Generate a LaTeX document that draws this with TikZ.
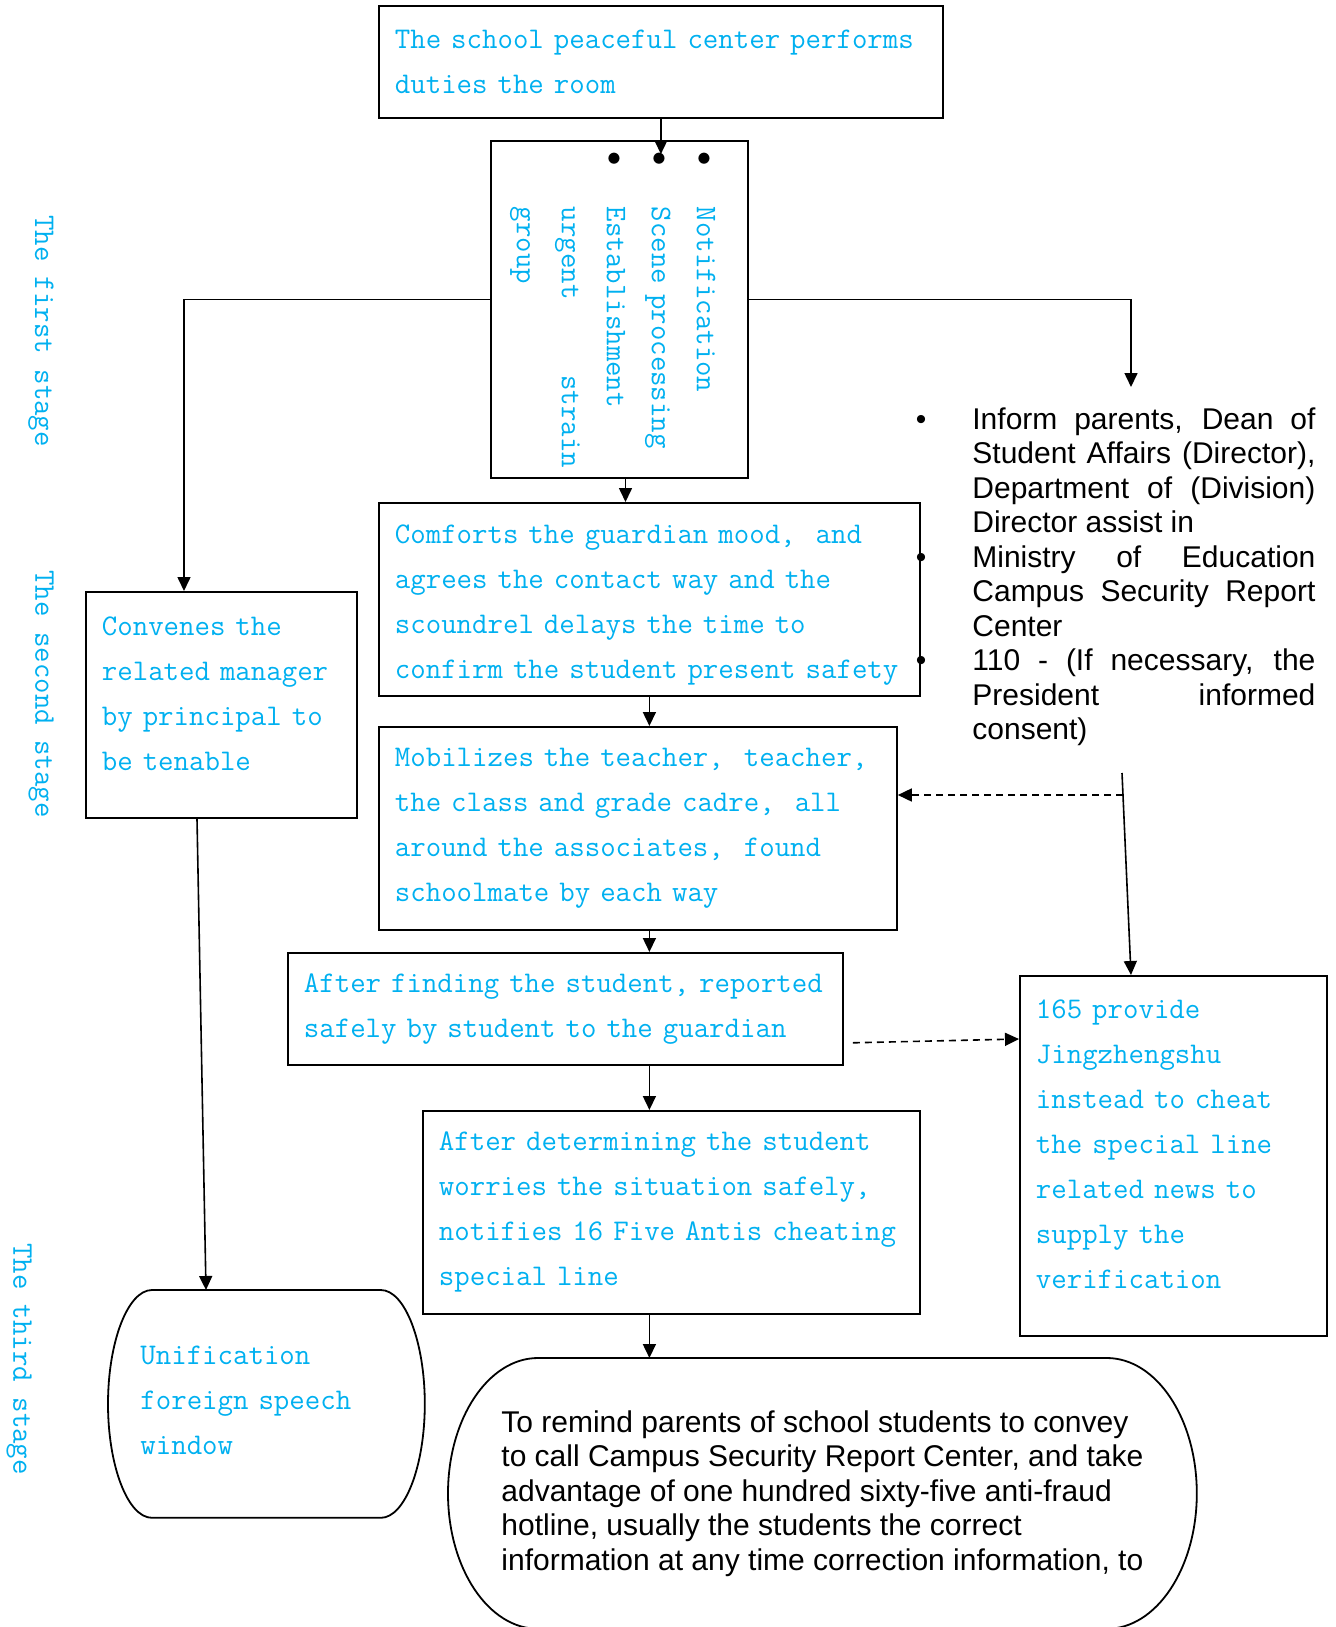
\documentclass[tikz,border=0pt]{standalone}
\usepackage{fontspec}
\newfontfamily\arialfont{Liberation Sans}
\usetikzlibrary{arrows.meta, calc}
\definecolor{skycyan}{RGB}{0,176,240}
\newcommand{\cyantext}{\ttfamily\fontsize{15}{22.5}\selectfont}
\newcommand{\blacktext}{\arialfont\fontsize{15}{17.25}\selectfont}
\newcommand{\dotmark}{\makebox[28pt][l]{\textcolor{black}{$\bullet$}}}
% outline with flat top and bottom and bulging sides
\newcommand{\pillframe}[3]{%
  \draw[boxline] ($(#1.north west)+(#2,0)$) -- ($(#1.north east)+(-#2,0)$)
    .. controls ($(#1.north east)+(-0.45*#2,0)$) and ($(#1.east)+(0,#3)$) .. (#1.east)
    .. controls ($(#1.east)+(0,-#3)$) and ($(#1.south east)+(-0.45*#2,0)$) .. ($(#1.south east)+(-#2,0)$)
    -- ($(#1.south west)+(#2,0)$)
    .. controls ($(#1.south west)+(0.45*#2,0)$) and ($(#1.west)+(0,-#3)$) .. (#1.west)
    .. controls ($(#1.west)+(0,#3)$) and ($(#1.north west)+(0.45*#2,0)$) .. cycle;}
\tikzset{
    boxline/.style={line width=0.9pt},
    stepbox/.style={rectangle, draw, boxline, anchor=north west, inner xsep=8pt, inner ysep=0pt, align=left, text=skycyan, font=\cyantext},
    pillbox/.style={rectangle, anchor=north west, inner ysep=0pt, align=left},
    stagelabel/.style={rotate=-90, text=skycyan, font=\cyantext, inner sep=0pt},
    infotext/.style={anchor=north west, text width=171.5pt, align=justify, inner sep=0pt, font=\blacktext},
    arrow/.style={-{Triangle[length=7pt, width=6.5pt]}, line width=0.8pt},
    dashedarrow/.style={arrow, dash pattern=on 3.5pt off 2.5pt},
}
\begin{document}
\begin{tikzpicture}[x=0.5pt, y=0.5pt]
    \useasboundingbox (0,0) rectangle (1335,-1627);
    \clip (0,0) rectangle (1335,-1627);

    % Stage labels
    \node[stagelabel] (stage1) at (41,-331) {The first stage};
    \node[stagelabel] (stage2) at (41,-694) {The second stage};
    \node[stagelabel] (stage3) at (19,-1359) {The third stage};

    % First stage
    \node[stepbox, text width=266pt, minimum height=56pt] (sch) at (378,-5)
        {The school peaceful center performs\\duties the room};
    \node[stepbox, rotate=-90, anchor=center, inner xsep=5pt, text width=158.5pt, minimum height=128.5pt, text height=16pt] (vbox) at (619.5,-309.5)
        {\dotmark Notification\\\dotmark Scene processing\\\dotmark Establishment\\\hspace*{28pt}urgent\hfill strain\\\hspace*{28pt}group};
    \node[infotext] (info) at (972,-407)
        {\llap{\textbullet\hspace{23pt}}Inform parents, Dean of\linebreak Student Affairs (Director),\linebreak Department of (Division)\linebreak Director assist in\\
         \llap{\textbullet\hspace{23pt}}Ministry of Education\linebreak Campus Security Report\linebreak Center\\
         \llap{\textbullet\hspace{23pt}}110 - (If necessary, the\linebreak President informed\linebreak consent)};
    \coordinate (infotop) at (1131,-387);

    % Second stage
    \node[stepbox, text width=119.5pt, minimum height=113pt] (conv) at (85,-591)
        {Convenes the\\related manager\\by principal to\\be tenable\par\vspace{11.5pt}};
    \node[stepbox, text width=254.5pt, minimum height=96.5pt] (comf) at (378,-502)
        {Comforts the guardian mood,~ and\\agrees the contact way and the\\scoundrel delays the time to\\confirm the student present safety\par\vspace{-6pt}};
    \node[stepbox, text width=243pt, minimum height=101.5pt] (mob) at (378,-726)
        {Mobilizes the teacher,~ teacher,\\the class and grade cadre,~ all\\around the associates,~ found\\schoolmate by each way};
    \node[stepbox, text width=261.5pt, minimum height=56pt] (after) at (287,-952)
        {After finding the student, reported\\safely by student to the guardian};
    \node[stepbox, text width=137.5pt, minimum height=180pt] (n165) at (1019,-975)
        {165 provide\\Jingzhengshu\\instead to cheat\\the special line\\related news to\\supply the\\verification\par\vspace{12pt}};
    \coordinate (relay) at (1122,-773);
    \coordinate (tap) at (1123,-795);

    % Third stage
    \node[stepbox, text width=232.5pt, minimum height=101.5pt] (det) at (422,-1110)
        {After determining the student\\worries the situation safely,\\notifies 16 Five Antis cheating\\special line};
    \node[pillbox, text=skycyan, font=\cyantext, inner xsep=16pt, text width=126pt, minimum height=113.5pt] (unif) at (108,-1290)
        {Unification\\foreign speech\\window\par\vspace{4pt}};
    \node[pillbox, font=\blacktext, inner xsep=0pt, minimum width=374pt, minimum height=135pt] (remind) at (448,-1358)
        {To remind parents of school students to convey\\to call Campus Security Report Center, and take\\advantage of one hundred sixty-five anti-fraud\\hotline, usually the students the correct\\information at any time correction information, to};
    \pillframe{unif}{44}{62}
    \pillframe{remind}{90}{75}

    % Arrows
    \draw[arrow] (sch.south) -- ($(sch.south |- vbox.west)+(0,-14)$);
    \draw[arrow] ($(vbox.south)+(0,10)$) -| ($(conv.north west)+(99,0)$);
    \draw[arrow] ($(vbox.north)+(0,10)$) -| (infotop);
    \draw[arrow] ($(vbox.east)+(6,0)$) -- ($(vbox.east |- comf.north)+(6,0)$);
    \draw[arrow] (comf.south) -- (comf.south |- mob.north);
    \draw[arrow] (comf.south |- mob.south) -- (comf.south |- after.north);
    \draw[arrow] (comf.south |- after.south) -- (comf.south |- det.north);
    \draw[arrow] (comf.south |- det.south) -- (comf.south |- remind.north);
    \draw[arrow] ($(conv.south west)+(112,0)$) -- ($(unif.north west)+(98,0)$);
    \draw[arrow] (relay) -- ($(n165.north west)+(112,0)$);
    \draw[dashedarrow] (tap) -- (tap -| mob.east);
    \draw[dashedarrow] ($(after.south east)+(9,23)$) -- ($(n165.north west)+(0,-64)$);
\end{tikzpicture}
\end{document}
